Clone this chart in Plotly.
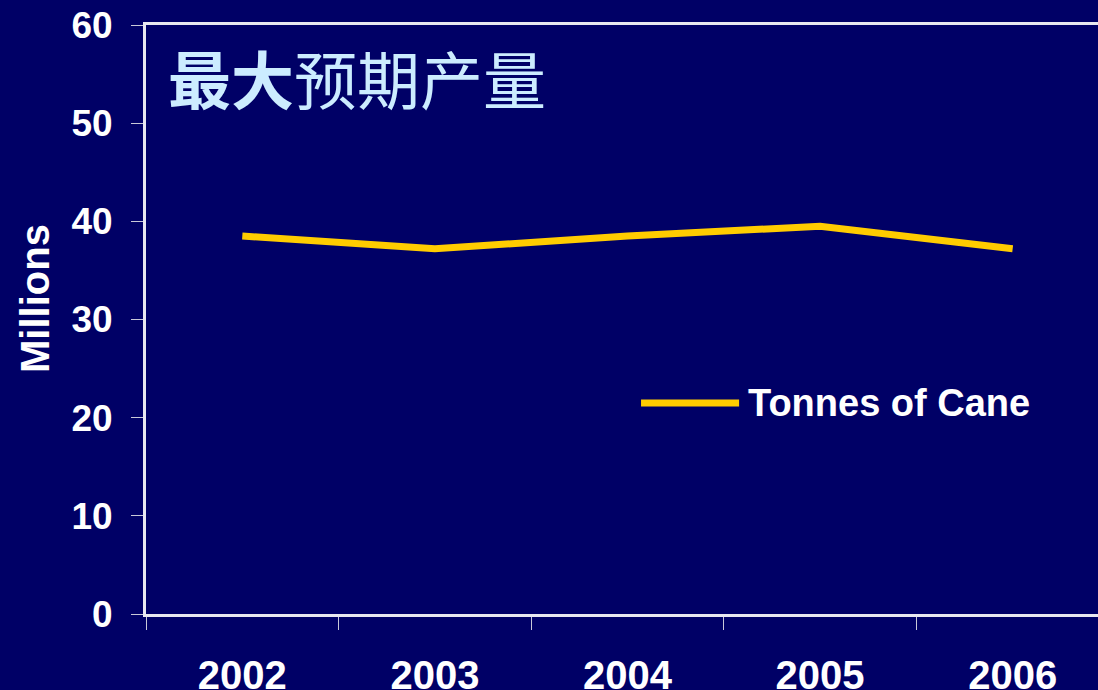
import plotly.graph_objects as go

years = ['2002', '2003', '2004', '2005', '2006']
tonnes_of_cane = [38.5, 37.2, 38.5, 39.5, 37.2]
series_name = 'Tonnes of Cane'
title_text = '<b>最大</b>预期产量'
y_title = 'Millions'
y_ticks = [0, 10, 20, 30, 40, 50, 60]

bg = '#000066'
font_family = 'Arial, Liberation Sans, sans-serif'

fig = go.Figure()
fig.add_trace(go.Scatter(
    x=years, y=tonnes_of_cane, mode='lines', name=series_name,
    line={'color': '#FFCC00', 'width': 7}, showlegend=False,
))

fig.update_layout(
    width=1098, height=690,
    paper_bgcolor=bg, plot_bgcolor=bg,
    margin={'l': 146, 'r': 0, 't': 25, 'b': 76},
    font={'family': font_family, 'color': 'white'},
)

fig.update_xaxes(
    type='category', range=[-0.5, 4.443], tickson='boundaries', automargin=False,
    showgrid=False, zeroline=False,
    showline=True, linecolor='#E8E8F0', linewidth=3, mirror=True,
    ticks='outside', ticklen=13, tickwidth=1, tickcolor='#C8C8D8',
    tickfont={'size': 40, 'family': font_family, 'weight': 'bold', 'color': 'white'},
    ticklabelstandoff=24,
)
fig.update_yaxes(
    range=[0, 60], tickvals=y_ticks, automargin=False,
    showgrid=False, zeroline=False,
    showline=True, linecolor='#E8E8F0', linewidth=3,
    ticks='outside', ticklen=12, tickwidth=1, tickcolor='#C8C8D8',
    tickfont={'size': 37, 'family': font_family, 'weight': 'bold', 'color': 'white'},
    ticklabelstandoff=11,
)

# axis title as annotation so it can sit where the reference has it
fig.add_annotation(
    text='<b>' + y_title + '</b>', xref='paper', yref='paper', x=-0.1166, y=0.5365,
    xanchor='center', yanchor='middle', textangle=-90, showarrow=False,
    font={'size': 40, 'color': 'white', 'family': font_family},
)

# title inside the plot area
fig.add_annotation(
    text=title_text, xref='paper', yref='paper', x=0.021, y=0.912,
    xanchor='left', yanchor='middle', showarrow=False,
    font={'size': 63, 'color': '#CCECFF', 'family': 'Noto Sans CJK SC'},
)

# legend drawn by hand, the sample line is longer than plotly's own
fig.add_shape(
    type='line', xref='paper', yref='paper', x0=0.520, x1=0.623, y0=0.3582, y1=0.3582,
    line={'color': '#FFCC00', 'width': 7},
)
fig.add_annotation(
    text='<b>' + series_name + '</b>', xref='paper', yref='paper', x=0.630, y=0.3582,
    xanchor='left', yanchor='middle', showarrow=False,
    font={'size': 38, 'color': 'white', 'family': font_family},
)

fig.write_html('out.html', config={'displayModeBar': False},
               post_script='document.body.style.margin = "0";')
